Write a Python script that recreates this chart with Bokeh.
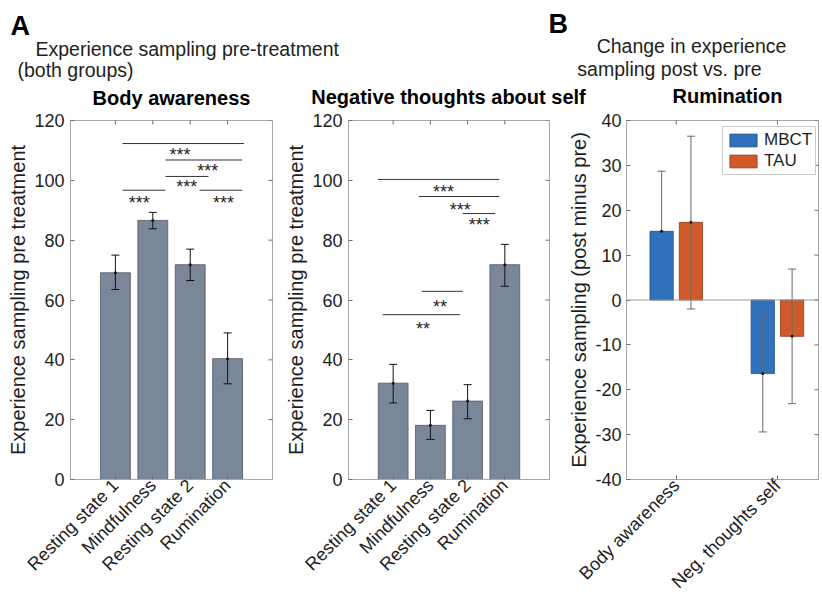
import math
from bokeh.plotting import figure
from bokeh.layouts import column, row
from bokeh.models import Range1d, FixedTicker, Span
from bokeh.transform import dodge
from bokeh.embed import file_html
from bokeh.resources import INLINE
from bokeh.core.properties import value

FONT = "Liberation Sans"

# ---------------- data ----------------
conditions = ["Resting state 1", "Mindfulness", "Resting state 2", "Rumination"]
cond_pos = [1, 2, 3, 4]

body_mean = [69.1, 86.6, 71.8, 40.4]
body_low = [63.5, 83.8, 66.5, 32.0]
body_high = [75.0, 89.3, 77.0, 49.0]

neg_mean = [32.2, 18.1, 26.2, 71.8]
neg_low = [25.6, 13.4, 20.3, 64.6]
neg_high = [38.5, 23.1, 31.7, 78.6]

# significance brackets (start, end, level) and star labels
body_sig_x0 = [1.19, 2.34, 2.34, 1.19, 3.25]
body_sig_x1 = [4.44, 4.39, 3.49, 2.34, 4.39]
body_sig_y = [112.3, 106.8, 101.3, 96.7, 96.7]
body_star_x = [2.73, 3.47, 2.91, 1.64, 3.89]
body_star_y = [109.7, 104.6, 99.2, 93.9, 93.9]
body_star_text = ["***", "***", "***", "***", "***"]

neg_sig_x0 = [0.59, 1.69, 2.87, 1.77, 0.72]
neg_sig_x1 = [3.85, 3.85, 3.74, 2.87, 2.80]
neg_sig_y = [100.3, 94.6, 88.9, 62.9, 55.1]
neg_star_x = [2.35, 2.80, 3.31, 2.26, 1.80]
neg_star_y = [97.6, 91.4, 86.3, 59.1, 51.7]
neg_star_text = ["***", "***", "***", "**", "**"]

measures = ["Body awareness", "Neg. thoughts self"]
measure_pos = [1, 2]
mbct_change = [15.3, -16.4]
mbct_low = [2.0, -29.4]
mbct_high = [28.7, -3.3]
tau_change = [17.3, -8.1]
tau_low = [-2.0, -23.1]
tau_high = [36.5, 6.9]

pre_ticks = [0, 20, 40, 60, 80, 100, 120]
change_ticks = [-40, -30, -20, -10, 0, 10, 20, 30, 40]

panel_letters = ["A", "B"]
header_a = ["Experience sampling pre-treatment", "(both groups)"]
header_b = ["Change in experience", "sampling post vs. pre"]
panel_titles = ["Body awareness", "Negative thoughts about self", "Rumination"]
ylabel_pre = "Experience sampling pre treatment"
ylabel_change = "Experience sampling (post minus pre)"
groups = ["MBCT", "TAU"]

# ---------------- style ----------------
BAR_GRAY = "#7A8799"
BLUE = "#2F71BC"
ORANGE = "#D05A2A"
FRAME = "#A8A8A8"
TICK = "#6E6E6E"
TXT = "#1E1E1E"

TOTAL_W = 820
HEAD_H = 109
PANEL_H = 493
TOP_B = 11
W1, W2 = 278, 287


def style_axes(p, xticks, xlabels, yticks, ylabel, ystandoff):
    p.xgrid.visible = False
    p.ygrid.visible = False
    p.outline_line_color = FRAME
    p.outline_line_width = 1
    p.background_fill_color = "white"
    p.border_fill_color = "white"

    xa = p.xaxis[0]
    xa.ticker = FixedTicker(ticks=xticks)
    xa.major_label_overrides = {t: l for t, l in zip(xticks, xlabels)}
    xa.major_label_orientation = math.pi / 4
    xa.major_label_text_font = FONT
    xa.major_label_text_font_size = "18px"
    xa.major_label_text_color = TXT
    xa.major_label_standoff = 3
    xa.major_tick_in = 4
    xa.major_tick_out = 0
    xa.minor_tick_line_color = None
    xa.axis_line_color = FRAME
    xa.major_tick_line_color = TICK

    ya = p.yaxis[0]
    ya.ticker = FixedTicker(ticks=yticks)
    ya.major_label_overrides = {t: str(t) for t in yticks}
    ya.major_label_text_font = FONT
    ya.major_label_text_font_size = "18px"
    ya.major_label_text_color = TXT
    ya.major_label_standoff = ystandoff
    ya.major_tick_in = 4
    ya.major_tick_out = 0
    ya.minor_tick_line_color = None
    ya.axis_line_color = FRAME
    ya.major_tick_line_color = TICK
    ya.axis_label = ylabel
    ya.axis_label_text_font = FONT
    ya.axis_label_text_font_size = "20px"
    ya.axis_label_text_font_style = "normal"
    ya.axis_label_text_color = TXT
    ya.axis_label_standoff = 2

    # mirrored inward ticks on the top and right edges of the box (clipped to the frame)
    x_end = p.x_range.end
    y_end = p.y_range.end
    p.scatter(x=xticks, y=[y_end] * len(xticks), marker="dash", angle=math.pi / 2, size=8,
              line_color=TICK, line_width=1)
    p.scatter(x=[x_end] * len(yticks), y=yticks, marker="dash", size=8,
              line_color=TICK, line_width=1)


def pre_panel(width, border_right, means, lows, highs, sx0, sx1, sy, stx, sty, stt):
    p = figure(width=width, height=PANEL_H, x_range=Range1d(-0.2, 5.2), y_range=Range1d(0, 120),
               output_backend="svg", toolbar_location=None, title=None,
               min_border_left=70, min_border_right=border_right,
               min_border_top=TOP_B, min_border_bottom=123)
    style_axes(p, cond_pos, conditions, pre_ticks, ylabel_pre, 6)
    p.vbar(x=cond_pos, top=means, bottom=0, width=0.8, fill_color=BAR_GRAY,
           line_color="#4F5864", line_width=0.8)
    p.segment(x0=cond_pos, y0=lows, x1=cond_pos, y1=highs, line_color="#111111", line_width=1)
    p.scatter(x=cond_pos + cond_pos, y=lows + highs, marker="dash", size=8,
              line_color="#111111", line_width=1)
    p.scatter(x=cond_pos, y=means, marker="circle", size=3, fill_color="#111111", line_color=None)
    p.segment(x0=sx0, y0=sy, x1=sx1, y1=sy, line_color="#333333", line_width=1)
    p.text(x=stx, y=sty, text=stt, text_font=value(FONT), text_font_size="18px",
           text_align="center", text_baseline="middle", y_offset=4, text_color=TXT)
    return p


p1 = pre_panel(W1, 6, body_mean, body_low, body_high,
               body_sig_x0, body_sig_x1, body_sig_y, body_star_x, body_star_y, body_star_text)
p2 = pre_panel(W2, 16, neg_mean, neg_low, neg_high,
               neg_sig_x0, neg_sig_x1, neg_sig_y, neg_star_x, neg_star_y, neg_star_text)

# ---------------- panel B ----------------
p3 = figure(width=TOTAL_W - W1 - W2, height=PANEL_H, x_range=Range1d(0.508, 2.406),
            y_range=Range1d(-40, 40), output_backend="svg", toolbar_location=None, title=None,
            min_border_left=60, min_border_right=2, min_border_top=TOP_B, min_border_bottom=123)
style_axes(p3, measure_pos, measures, change_ticks, ylabel_change, 5)
p3.add_layout(Span(location=0, dimension="width", line_color="#9A9A9A", line_width=1))
src = dict(x=measure_pos, mbct=mbct_change, tau=tau_change)
p3.vbar(x=dodge("x", -0.145), top="mbct", bottom=0, width=0.23, source=src,
        fill_color=BLUE, line_color="#1F4E85", line_width=0.8, legend_label=groups[0])
p3.vbar(x=dodge("x", 0.145), top="tau", bottom=0, width=0.23, source=src,
        fill_color=ORANGE, line_color="#8E3C1B", line_width=0.8, legend_label=groups[1])
err_src = dict(x=measure_pos, ml=mbct_low, mh=mbct_high, tl=tau_low, th=tau_high,
               mm=mbct_change, tm=tau_change)
for off, lo, hi, mid in [(-0.145, "ml", "mh", "mm"), (0.145, "tl", "th", "tm")]:
    p3.segment(x0=dodge("x", off), y0=lo, x1=dodge("x", off), y1=hi, source=err_src,
               line_color="#6A6A6A", line_width=1)
    p3.scatter(x=dodge("x", off), y=lo, source=err_src, marker="dash", size=8,
               line_color="#6A6A6A", line_width=1)
    p3.scatter(x=dodge("x", off), y=hi, source=err_src, marker="dash", size=8,
               line_color="#6A6A6A", line_width=1)
    p3.scatter(x=dodge("x", off), y=mid, source=err_src, marker="circle", size=3,
               fill_color="#111111", line_color=None)

lg = p3.legend[0]
lg.location = (96, 304)
lg.margin = 0
lg.padding = 3
lg.spacing = 1
lg.glyph_width = 34
lg.glyph_height = 16
lg.label_standoff = 4
lg.label_text_font = FONT
lg.label_text_font_size = "17px"
lg.label_text_color = TXT
lg.label_height = 16
lg.border_line_color = "#9A9A9A"
lg.border_line_width = 1
lg.background_fill_alpha = 1.0

# ---------------- header (panel letters, group captions, panel titles) ----------------
head = figure(width=TOTAL_W, height=HEAD_H, x_range=Range1d(0, TOTAL_W), y_range=Range1d(HEAD_H, 0),
              output_backend="svg", toolbar_location=None, x_axis_location=None, title=None,
              y_axis_location=None, min_border=0, outline_line_color=None)
head.xgrid.visible = False
head.ygrid.visible = False
head.text(x=[10, 548], y=[25, 23.5], text=panel_letters, text_font=value(FONT),
          text_font_size="27px", text_font_style="bold", text_color="black",
          text_align="left", text_baseline="alphabetic")
head.text(x=[35, 17], y=[48.5, 69.5], text=header_a, text_font=value(FONT),
          text_font_size="19.5px", text_color=TXT, text_align="left", text_baseline="alphabetic")
head.text(x=[691, 669], y=[45.5, 68.5], text=header_b, text_font=value(FONT),
          text_font_size="19.5px", text_color=TXT, text_align="center", text_baseline="alphabetic")
head.text(x=[171, 448, 727], y=[97.5, 96.5, 95.5], text=panel_titles, text_font=value(FONT),
          text_font_size="20px", text_font_style="bold", text_color="black",
          text_align="center", text_baseline="alphabetic")

layout = column(head, row(p1, p2, p3, spacing=0), spacing=0)
open("out.html", "w").write(file_html(layout, INLINE))
